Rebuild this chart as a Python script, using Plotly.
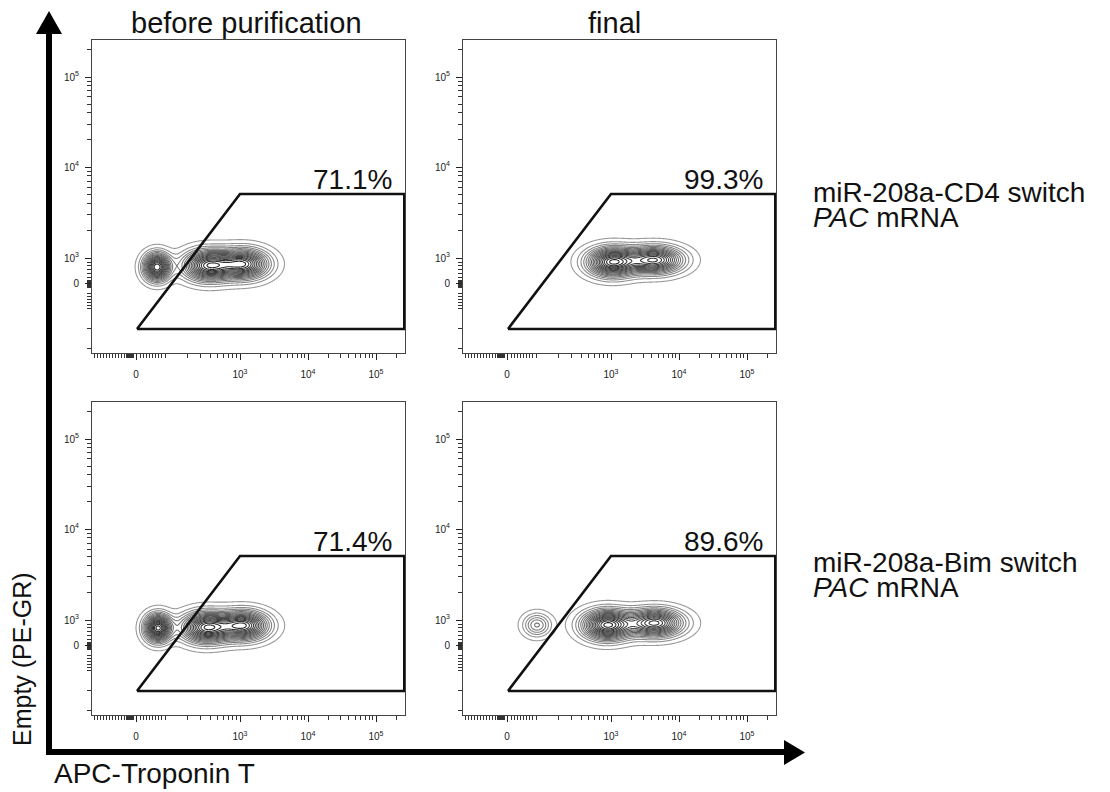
import numpy as np
import plotly.graph_objects as go

# the page body adds an 8px margin on the top/left, so the figure is shifted to compensate
OFF = 8
W, H = 1110 - OFF, 792 - OFF
FONT = "Liberation Sans, Arial, sans-serif"

# ---------------- text ----------------
COL_TITLES = ["before purification", "final"]
ROW_LABELS = [("miR-208a-CD4 switch", "<i>PAC</i> mRNA"),
              ("miR-208a-Bim switch", "<i>PAC</i> mRNA")]
PCT = [["71.1%", "99.3%"], ["71.4%", "89.6%"]]
X_TITLE = "APC-Troponin T"
Y_TITLE = "Empty (PE-GR)"

# ---------------- axis ticks (display units of the biexponential scale) ----------------
X_LABELED_POS = [0, 104, 172, 240]
X_LABELED_TEXT = ["0", "10<sup>3</sup>", "10<sup>4</sup>", "10<sup>5</sup>"]
X_DECADE_POS = [29, 104, 172, 240]          # 10^2 .. 10^5
X_ZERO_BLOCK = [-10, -9, -8, -7, -6, -5, -4, -3]
X_NEG_MINOR = [-42, -39, -36, -33, -30, -27, -24, -21, -18, -15, -12]
X_LIN_MINOR = [4, 7, 10, 13, 16, 19, 22, 25]

Y_LABELED_POS = [0, 25, 116, 206]
Y_LABELED_TEXT = ["0", "10<sup>3</sup>", "10<sup>4</sup>", "10<sup>5</sup>"]
Y_DECADE_POS = [25, 116, 206]               # 10^3 .. 10^5
Y_ZERO_BLOCK = [-4, -3, -2, -1, 1, 2, 3]
Y_NEG_MINOR = [-10, -13, -16, -19, -22, -25, -45, -65]
Y_LIN_MINOR = [6, 10, 14, 18, 21]

X_RANGE = [-44, 269]
Y_RANGE = [-70, 243]

# ---------------- gate polygon (display units) ----------------
GATE_X = [1, 104, 268.3, 268.3, 1]
GATE_Y = [-46, 89, 89, -46, -46]
PCT_POS = (258, 104)

# ---------------- population components ----------------
# (center x, center y, sigma x, sigma y, weight)
POPS = {
    (0, 0): [(21, 16, 8.5, 8.8, 0.95), (72, 17.5, 16, 9.8, 0.9), (108, 19, 16, 9.5, 0.85)],
    (0, 1): [(105, 21, 16, 9.2, 1.0), (148, 23, 18, 8.6, 0.9)],
    (1, 0): [(22, 17, 8.5, 8.8, 0.95), (70, 17.5, 16, 9.8, 0.9), (108, 19.5, 16, 9.3, 0.85)],
    (1, 1): [(30, 20, 9.0, 7.5, 0.33), (100, 20, 16, 9.5, 1.0), (148, 22, 18, 8.8, 0.9)],
}

# panel boxes in reference pixels (left, right) / (top, bottom)
COL_PX = [(92, 405), (463, 776)]
ROW_PX = [(40, 353), (402, 715)]


def P(px, py):
    return (px - OFF) / W, 1 - (py - OFF) / H


def log_minors(decades, spacing_after):
    out = []
    pts = list(decades) + [decades[-1] + spacing_after]
    for p0, p1 in zip(pts[:-1], pts[1:]):
        for m in range(2, 10):
            out.append(p0 + (p1 - p0) * np.log10(m))
    return out


x_minor = X_NEG_MINOR + X_ZERO_BLOCK + X_LIN_MINOR + [X_DECADE_POS[0]] + log_minors(X_DECADE_POS, 68)
y_minor = Y_NEG_MINOR + Y_ZERO_BLOCK + Y_LIN_MINOR + log_minors(Y_DECADE_POS, 90)
x_minor = [v for v in x_minor if X_RANGE[0] < v < X_RANGE[1]]
y_minor = [v for v in y_minor if Y_RANGE[0] < v < Y_RANGE[1]]

gx = np.arange(-30, 230, 0.8)
gy = np.arange(-30, 80, 0.5)
GX, GY = np.meshgrid(gx, gy)

fig = go.Figure()
layout_axes = {}
annotations = []

for r in range(2):
    for c in range(2):
        idx = r * 2 + c + 1
        sfx = "" if idx == 1 else str(idx)
        xa, ya = "x" + sfx, "y" + sfx

        Z = np.zeros_like(GX)
        for (cx, cy, sx, sy, w) in POPS[(r, c)]:
            Z += w * np.exp(-0.5 * (((GX - cx) / sx) ** 2 + ((GY - cy) / sy) ** 2))
        Z = Z / Z.max()

        fig.add_trace(go.Contour(
            x=gx, y=gy, z=Z, xaxis=xa, yaxis=ya, autocontour=False,
            contours=dict(coloring="lines", start=0.035, end=0.97, size=0.055),
            line=dict(width=1.1, smoothing=1.0),
            colorscale=[[0, "#9a9a9a"], [0.4, "#626262"], [1, "#262626"]],
            zmin=0, zmax=1, showscale=False, hoverinfo="skip",
        ))
        fig.add_trace(go.Scatter(
            x=GATE_X, y=GATE_Y, xaxis=xa, yaxis=ya, mode="lines",
            line=dict(color="#111111", width=2.6), hoverinfo="skip", showlegend=False,
        ))

        l, rgt = COL_PX[c]
        t, b = ROW_PX[r]
        xl, _ = P(l, 0)
        xr, _ = P(rgt, 0)
        _, yb = P(0, b)
        _, yt = P(0, t)
        common = dict(showgrid=False, zeroline=False, showline=True, mirror=True,
                      linecolor="#444444", linewidth=1, ticks="outside",
                      tickcolor="#222222", tickwidth=1.2, ticklen=6,
                      tickfont=dict(family=FONT, size=10, color="#222222"))
        layout_axes["xaxis" + sfx] = dict(
            domain=[xl, xr], anchor=ya, range=X_RANGE,
            tickmode="array", tickvals=X_LABELED_POS, ticktext=X_LABELED_TEXT,
            ticklabelstandoff=6,
            minor=dict(tickmode="array", tickvals=x_minor, ticks="outside",
                       ticklen=4, tickwidth=1, tickcolor="#333333"),
            **common)
        layout_axes["yaxis" + sfx] = dict(
            domain=[yb, yt], anchor=xa, range=Y_RANGE,
            tickmode="array", tickvals=Y_LABELED_POS, ticktext=Y_LABELED_TEXT,
            ticklabelstandoff=4,
            minor=dict(tickmode="array", tickvals=y_minor, ticks="outside",
                       ticklen=4, tickwidth=1, tickcolor="#333333"),
            **common)

        annotations.append(dict(
            x=PCT_POS[0], y=PCT_POS[1], xref=xa, yref=ya, text=PCT[r][c],
            xanchor="right", yanchor="middle", showarrow=False,
            font=dict(family=FONT, size=28, color="#111111")))

# column titles
for c, txt in enumerate(COL_TITLES):
    cx = [246, 614][c]
    x, y = P(cx, 23)
    annotations.append(dict(x=x, y=y, xref="paper", yref="paper", text=txt,
                            xanchor="center", yanchor="middle", showarrow=False,
                            font=dict(family=FONT, size=29, color="#111111")))

# row labels
for r, (l1, l2) in enumerate(ROW_LABELS):
    y1 = [192, 562][r]
    for k, txt in enumerate((l1, l2)):
        x, y = P(811, y1 + 25 * k)
        annotations.append(dict(x=x, y=y, xref="paper", yref="paper", text=txt,
                                xanchor="left", yanchor="middle", showarrow=False,
                                font=dict(family=FONT, size=28, color="#111111")))

# axis titles
x, y = P(52, 773)
annotations.append(dict(x=x, y=y, xref="paper", yref="paper", text=X_TITLE,
                        xanchor="left", yanchor="middle", showarrow=False,
                        font=dict(family=FONT, size=28, color="#111111")))
x, y = P(22, 659)
annotations.append(dict(x=x, y=y, xref="paper", yref="paper", text=Y_TITLE,
                        textangle=-90, xanchor="center", yanchor="middle", showarrow=False,
                        font=dict(family=FONT, size=25, color="#111111")))

# big axis arrows (decoration)
shapes = []
ax_x, ax_y = 49, 752
x0, y0 = P(ax_x, ax_y + 3)
x1, y1 = P(ax_x, 30)
shapes.append(dict(type="line", xref="paper", yref="paper", x0=x0, y0=y0, x1=x1, y1=y1,
                   line=dict(color="black", width=6)))
x0, y0 = P(ax_x - 3, ax_y)
x1, y1 = P(788, ax_y)
shapes.append(dict(type="line", xref="paper", yref="paper", x0=x0, y0=y0, x1=x1, y1=y1,
                   line=dict(color="black", width=6)))


def tri(pts):
    s = ""
    for i, (px, py) in enumerate(pts):
        x, y = P(px, py)
        s += ("M" if i == 0 else "L") + f"{x:.5f},{y:.5f} "
    return s + "Z"


shapes.append(dict(type="path", xref="paper", yref="paper",
                   path=tri([(36, 34), (49, 11), (62, 34)]),
                   fillcolor="black", line=dict(color="black", width=0)))
shapes.append(dict(type="path", xref="paper", yref="paper",
                   path=tri([(784, 740), (805, 752.5), (784, 765)]),
                   fillcolor="black", line=dict(color="black", width=0)))

fig.update_layout(
    width=W, height=H, autosize=False,
    margin=dict(l=0, r=0, t=0, b=0),
    paper_bgcolor="white", plot_bgcolor="white",
    showlegend=False, annotations=annotations, shapes=shapes,
    **layout_axes,
)

fig.write_html("out.html")
